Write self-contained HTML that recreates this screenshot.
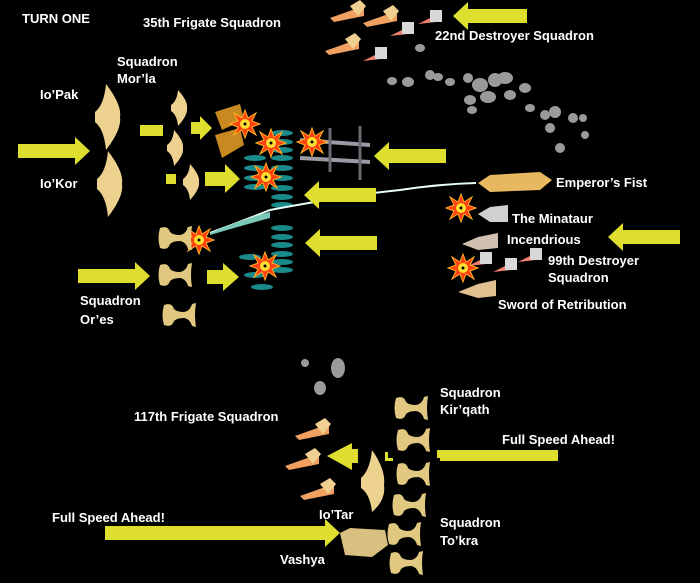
<!DOCTYPE html>
<html><head><meta charset="utf-8"><style>
html,body{margin:0;padding:0;background:#000;}
svg{display:block;}
text{font-family:"Liberation Sans",sans-serif;font-weight:bold;font-size:13px;fill:#fff;}
</style></head><body>
<svg width="700" height="583" viewBox="0 0 700 583" xmlns="http://www.w3.org/2000/svg">
<defs>
 <path id="arL" d="M0,0 L15,-14 L15,-7 L72,-7 L72,7 L15,7 L15,14 Z" fill="#dede2e"/>
 <path id="arR" d="M0,0 L-15,-14 L-15,-7 L-72,-7 L-72,7 L-15,7 L-15,14 Z" fill="#dede2e"/>
 <path id="boom" d="M0,-14 L3,-6 L11,-11 L7,-3 L15,0 L7,3 L11,11 L3,6 L0,14 L-3,6 L-11,11 L-7,3 L-15,0 L-7,-3 L-11,-11 L-3,-6 Z" fill="#ff4010" stroke="#ffb020" stroke-width="1"/>
 <g id="ex"><use href="#boom"/><circle r="5" fill="#ffe030"/><circle r="1.5" fill="#000"/></g>
 <path id="cres" d="M0,-33 Q16,-12 14,0 Q16,12 0,33 Q-2,12 -11,5 L-11,-5 Q-2,-12 0,-33 Z" fill="#ecd28e"/>
 <path id="scres" d="M0,-18 Q10,-7 9,0 Q10,7 0,18 Q-1,7 -7,3 L-7,-3 Q-1,-7 0,-18 Z" fill="#ecd28e"/>
 <path id="ham" d="M-16,-10 Q-8,-13 -6,-6 Q-3,-3 4,-3 Q10,-4 12,-11 L16,-12 Q14,0 16,12 L12,11 Q10,4 4,3 Q-3,3 -6,6 Q-8,13 -16,10 Q-19,0 -16,-10 Z" fill="#e0c880"/>
 <g id="frig"><path d="M-20,6 L8,-4 L14,-8 L14,4 L-16,10 Z" fill="#f0a060"/><path d="M0,-6 L10,-12 L16,-6 L8,4 Z" fill="#f0d090"/></g>
 <g id="dest"><path d="M-12,6 L4,-2 L6,4 Z" fill="#f08070"/><rect x="0" y="-8" width="12" height="12" fill="#d8d8d8"/></g>
 <ellipse id="tl" rx="11" ry="3" fill="#1a8a8a"/>
</defs>

<text x="22" y="23">TURN ONE</text>
<text x="143" y="27">35th Frigate Squadron</text>
<text x="435" y="40">22nd Destroyer Squadron</text>
<text x="117" y="66">Squadron</text><text x="117" y="83">Mor’la</text>
<text x="40" y="99">Io’Pak</text>
<text x="40" y="188">Io’Kor</text>
<text x="80" y="305">Squadron</text><text x="80" y="324">Or’es</text>
<text x="556" y="187">Emperor’s Fist</text>
<text x="512" y="223">The Minataur</text>
<text x="507" y="244">Incendrious</text>
<text x="548" y="265">99th Destroyer</text><text x="548" y="282">Squadron</text>
<text x="498" y="309">Sword of Retribution</text>
<text x="440" y="397">Squadron</text><text x="440" y="414">Kir’qath</text>
<text x="134" y="421">117th Frigate Squadron</text>
<text x="502" y="444">Full Speed Ahead!</text>
<text x="52" y="522">Full Speed Ahead!</text>
<text x="319" y="519">Io’Tar</text>
<text x="440" y="527">Squadron</text><text x="440" y="545">To’kra</text>
<text x="280" y="564">Vashya</text>

<!-- asteroids -->
<g fill="#9a9a9a">
<ellipse cx="420" cy="48" rx="5" ry="4"/><ellipse cx="392" cy="81" rx="5" ry="4"/><ellipse cx="408" cy="82" rx="6" ry="5"/>
<ellipse cx="430" cy="75" rx="5" ry="5"/><ellipse cx="438" cy="77" rx="5" ry="4"/><ellipse cx="450" cy="82" rx="5" ry="4"/>
<ellipse cx="468" cy="78" rx="5" ry="5"/><ellipse cx="480" cy="85" rx="8" ry="7"/><ellipse cx="495" cy="80" rx="7" ry="7"/>
<ellipse cx="505" cy="78" rx="8" ry="6"/><ellipse cx="488" cy="97" rx="8" ry="6"/><ellipse cx="470" cy="100" rx="6" ry="5"/>
<ellipse cx="510" cy="95" rx="6" ry="5"/><ellipse cx="525" cy="88" rx="6" ry="5"/><ellipse cx="472" cy="110" rx="5" ry="4"/>
<ellipse cx="530" cy="108" rx="5" ry="4"/><ellipse cx="545" cy="115" rx="5" ry="5"/><ellipse cx="555" cy="112" rx="6" ry="6"/>
<ellipse cx="550" cy="128" rx="5" ry="5"/><ellipse cx="573" cy="118" rx="5" ry="5"/><ellipse cx="583" cy="118" rx="4" ry="4"/>
<ellipse cx="560" cy="148" rx="5" ry="5"/><ellipse cx="585" cy="135" rx="4" ry="4"/>
<ellipse cx="320" cy="388" rx="6" ry="7"/><ellipse cx="338" cy="368" rx="7" ry="10"/><ellipse cx="305" cy="363" rx="4" ry="4"/>
</g>

<!-- top ships -->
<use href="#frig" x="350" y="12"/><use href="#frig" x="383" y="17"/><use href="#frig" x="345" y="45"/>
<use href="#dest" x="402" y="30"/><use href="#dest" x="430" y="18"/><use href="#dest" x="375" y="55"/>
<use href="#arL" x="453" y="16"/><rect x="468" y="9" width="59" height="14" fill="#dede2e"/>

<!-- left fleet -->
<use href="#arR" x="90" y="151"/>
<use href="#cres" x="106" y="117"/><use href="#cres" x="108" y="184"/>
<use href="#scres" x="178" y="108"/><use href="#scres" x="174" y="148"/><use href="#scres" x="190" y="182"/>
<rect x="140" y="125" width="23" height="11" fill="#dede2e"/>
<rect x="166" y="174" width="10" height="10" fill="#dede2e"/>
<polygon points="191,122 200,122 200,116 212,128 200,140 200,134 191,134" fill="#dede2e"/>
<polygon points="205,172 225,172 225,164 240,179 225,193 225,186 205,186" fill="#dede2e"/>
<!-- orange ships -->
<path d="M215,112 L240,104 L244,120 L222,130 Z M215,135 L240,128 L244,145 L222,158 Z" fill="#c88a20"/>

<!-- teal cordon -->
<g>
<use href="#tl" x="255" y="158"/><use href="#tl" x="282" y="158"/><use href="#tl" x="255" y="168"/><use href="#tl" x="282" y="168"/>
<use href="#tl" x="255" y="178"/><use href="#tl" x="282" y="178"/><use href="#tl" x="255" y="187"/><use href="#tl" x="282" y="188"/>
<use href="#tl" x="282" y="133"/><use href="#tl" x="282" y="142"/><use href="#tl" x="282" y="150"/>
<use href="#tl" x="282" y="197"/><use href="#tl" x="282" y="205"/>
<use href="#tl" x="282" y="228"/><use href="#tl" x="282" y="237"/><use href="#tl" x="282" y="245"/><use href="#tl" x="282" y="254"/>
<use href="#tl" x="282" y="262"/><use href="#tl" x="282" y="270"/>
<use href="#tl" x="250" y="257"/><use href="#tl" x="255" y="275"/><use href="#tl" x="262" y="287"/>
</g>

<!-- grey hulks -->
<g stroke="#9a9aa4" stroke-width="4"><line x1="300" y1="140" x2="370" y2="145"/><line x1="300" y1="158" x2="370" y2="162"/></g>
<g stroke="#6a6a74" stroke-width="3"><line x1="330" y1="128" x2="330" y2="172"/><line x1="360" y1="126" x2="360" y2="180"/></g>

<!-- laser -->
<path d="M210,233 Q240,222 270,210 Q350,195 400,190 Q440,184 476,183" stroke="#e8fff8" stroke-width="2" fill="none"/>
<path d="M210,233 Q240,220 270,212 L270,218 Q240,226 210,235 Z" fill="#7ac8b8"/>

<!-- arrows left middle -->
<use href="#arL" x="374" y="156"/><use href="#arL" x="304" y="195"/><use href="#arL" x="305" y="243"/><use href="#arL" x="608" y="237"/>

<!-- right ships -->
<path d="M478,183 L490,175 L540,172 L552,180 L540,190 L490,192 Z" fill="#e8b860"/>
<path d="M478,214 L490,207 L508,205 L508,222 L490,222 Z" fill="#d0d0d0"/>
<path d="M462,244 L478,237 L498,233 L498,248 L478,250 Z" fill="#d0c0b0"/>
<use href="#dest" x="530" y="256"/><use href="#dest" x="505" y="266"/><use href="#dest" x="480" y="260"/>
<path d="M458,292 L478,284 L496,280 L496,296 L478,298 Z" fill="#e0c090"/>

<!-- explosions -->
<use href="#ex" x="245" y="124"/><use href="#ex" x="271" y="143"/><use href="#ex" x="266" y="177"/>
<use href="#ex" x="312" y="142"/><use href="#ex" x="199" y="240"/><use href="#ex" x="265" y="266"/>
<use href="#ex" x="461" y="208"/><use href="#ex" x="463" y="268"/>

<!-- Or'es -->
<use href="#ham" x="176" y="238"/><use href="#ham" x="176" y="275"/><use href="#ham" x="180" y="315"/>
<use href="#arR" x="150" y="276"/>
<polygon points="207,270 223,270 223,263 239,277 223,291 223,284 207,284" fill="#dede2e"/>

<!-- bottom -->
<use href="#frig" x="315" y="430"/><use href="#frig" x="305" y="460"/><use href="#frig" x="320" y="490"/>
<polygon points="327,456 352,443 352,470" fill="#dede2e"/><rect x="352" y="449" width="6" height="14" fill="#dede2e"/>
<path d="M372,450 Q386,470 384,485 Q386,500 372,512 Q370,494 361,488 L361,478 Q370,470 372,450 Z" fill="#ecd28e"/>
<path d="M385,452 L385,461 L393,461 L393,458 L388,458 L388,452 Z" fill="#dede2e"/>
<rect x="440" y="450" width="118" height="11" fill="#dede2e"/><rect x="437" y="450" width="6" height="8" fill="#dede2e"/>
<use href="#ham" x="412" y="408"/><use href="#ham" x="414" y="440"/><use href="#ham" x="414" y="474"/>
<use href="#ham" x="410" y="505"/><use href="#ham" x="405" y="534"/><use href="#ham" x="407" y="563"/>
<use href="#arR" x="340" y="533"/><rect x="105" y="526" width="170" height="14" fill="#dede2e"/>
<path d="M340,533 L350,528 L385,530 L388,545 L372,557 L345,555 Z" fill="#d8c080"/>
</svg>
</body></html>
